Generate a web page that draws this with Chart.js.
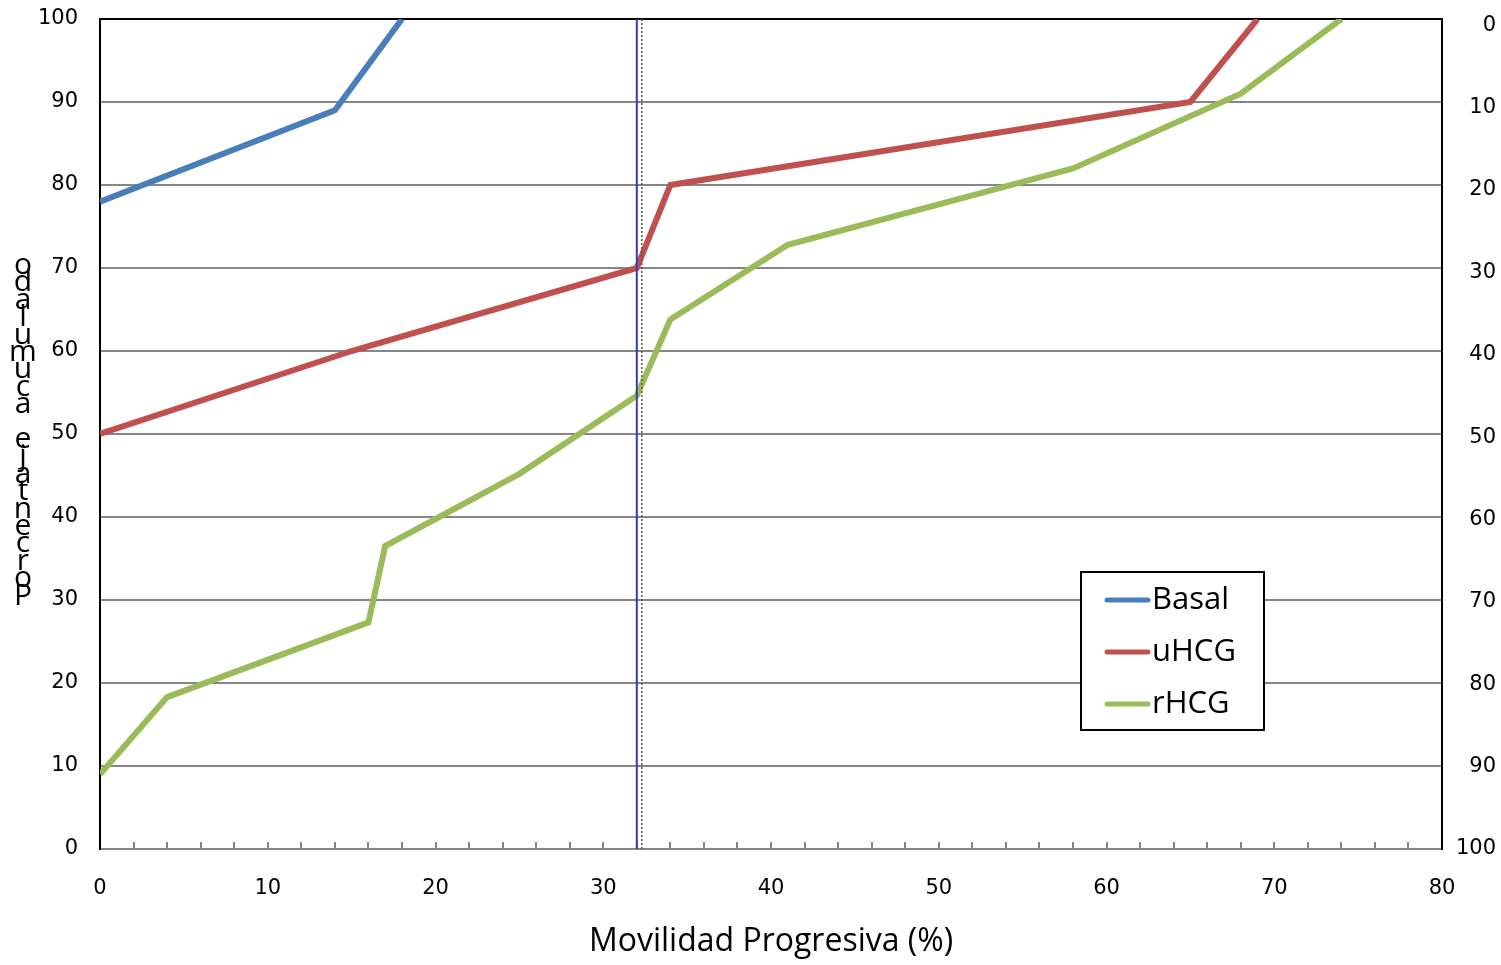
<!DOCTYPE html>
<html>
<head>
<meta charset="utf-8">
<script src="https://cdn.jsdelivr.net/npm/chart.js@4.4.1/dist/chart.umd.min.js"></script>
<style>
  html, body { margin: 0; padding: 0; background: #fff; }
  canvas { display: block; }
</style>
</head>
<body>
<canvas id="chart" width="1501" height="965"></canvas>
<script>
// Series (x = Movilidad Progresiva %, y = cumulative %)
const seriesNames = ['Basal', 'uHCG', 'rHCG'];
const seriesColors = ['#4a7ebb', '#c0504d', '#9bbb59'];

const basalX = [0, 14, 18];
const basalY = [78, 89, 100];

const uhcgX = [0, 15, 32, 34, 65, 69];
const uhcgY = [50, 60, 70, 80, 90, 100];

const rhcgX = [0, 4, 16, 17, 25, 32, 34, 41, 58, 68, 74];
const rhcgY = [9, 18.3, 27.3, 36.5, 45.2, 54.6, 63.8, 72.8, 82, 91, 100];

// Reference lines
const cutoffX = 32;
const cutoffDottedX = 32.3;
const cutoffY = [0, 100];

const leftTicks = [0, 10, 20, 30, 40, 50, 60, 70, 80, 90, 100];
const rightTicks = [0, 10, 20, 30, 40, 50, 60, 70, 80, 90, 100];

const xTitle = 'Movilidad Progresiva (%)';
const yTitle = 'Porcentaje acumulado';

const toPoints = (xs, ys) => xs.map((x, i) => ({ x, y: ys[i] }));

const tickFont = { family: 'DejaVu Sans', size: 21 };
const textFont = '"Open Sans", sans-serif';

// drop the label overflow padding so the plot box sits where the reference has it
const noEdgePadding = (scale) => {
  scale.paddingTop = 0;
  scale.paddingBottom = 0;
};

// Legend box and stacked y title drawn on top of the chart
const extrasPlugin = {
  id: 'extras',
  afterDraw(chart) {
    const { ctx, chartArea } = chart;
    ctx.save();

    // x title
    ctx.fillStyle = '#000';
    ctx.font = `32px ${textFont}`;
    ctx.textAlign = 'center';
    ctx.textBaseline = 'middle';
    ctx.fillText(xTitle, (chartArea.left + chartArea.right) / 2, 942);

    // y title: upright letters stacked bottom to top
    ctx.font = `30px ${textFont}`;
    const chars = yTitle.split('');
    const step = 17.4;
    chars.forEach((ch, i) => {
      ctx.fillText(ch, 23, 596 - i * step);
    });

    // legend
    const bx = 1081, by = 572, bw = 183, bh = 158;
    ctx.fillStyle = '#fff';
    ctx.fillRect(bx, by, bw, bh);
    ctx.strokeStyle = '#000';
    ctx.lineWidth = 2;
    ctx.strokeRect(bx, by, bw, bh);
    ctx.font = `31px ${textFont}`;
    ctx.textAlign = 'left';
    seriesNames.forEach((name, i) => {
      const y = by + 28 + i * 52;
      ctx.strokeStyle = seriesColors[i];
      ctx.lineWidth = 5;
      ctx.lineCap = 'round';
      ctx.beginPath();
      ctx.moveTo(bx + 26, y);
      ctx.lineTo(bx + 67, y);
      ctx.stroke();
      ctx.fillStyle = '#000';
      ctx.fillText(name, bx + 71, y);
    });
    ctx.restore();
  }
};

const lineDataset = (label, pts, color) => ({
  label,
  data: pts,
  borderColor: color,
  backgroundColor: color,
  borderWidth: 6,
  pointRadius: 0,
  tension: 0,
  order: 2,
  yAxisID: 'y'
});

new Chart(document.getElementById('chart').getContext('2d'), {
  type: 'line',
  data: {
    datasets: [
      lineDataset(seriesNames[0], toPoints(basalX, basalY), seriesColors[0]),
      lineDataset(seriesNames[1], toPoints(uhcgX, uhcgY), seriesColors[1]),
      lineDataset(seriesNames[2], toPoints(rhcgX, rhcgY), seriesColors[2]),
      {
        label: 'corte',
        data: cutoffY.map((y) => ({ x: cutoffX, y })),
        borderColor: '#3a3aa8',
        borderWidth: 2,
        pointRadius: 0,
        order: 0,
        yAxisID: 'y'
      },
      {
        label: 'corte2',
        data: cutoffY.map((y) => ({ x: cutoffDottedX, y })),
        borderColor: '#555',
        borderWidth: 1.5,
        borderDash: [2, 2],
        pointRadius: 0,
        order: 1,
        yAxisID: 'y'
      }
    ]
  },
  options: {
    responsive: false,
    animation: false,
    layout: { padding: { top: 19, right: 5, left: 0, bottom: 0 } },
    plugins: {
      legend: { display: false },
      tooltip: { enabled: false }
    },
    scales: {
      x: {
        type: 'linear',
        position: 'bottom',
        min: 0,
        max: 80,
        afterFit: (scale) => {
          scale.height = 116;
          scale.paddingLeft = 0;
          scale.paddingRight = 0;
        },
        ticks: {
          stepSize: 2,
          autoSkip: false,
          maxRotation: 0,
          padding: 34,
          color: '#000',
          font: tickFont,
          callback: (v) => (v % 10 === 0 ? v : '')
        },
        grid: {
          drawOnChartArea: false,
          tickLength: -7,
          color: '#868686',
          lineWidth: 2
        },
        border: { color: '#868686', width: 2 }
      },
      y: {
        type: 'linear',
        position: 'left',
        min: 0,
        max: 100,
        afterFit: (scale) => { scale.width = 100; noEdgePadding(scale); },
        afterBuildTicks: (scale) => { scale.ticks = leftTicks.map((value) => ({ value })); },
        ticks: { padding: 22, color: '#000', font: tickFont },
        grid: {
          drawTicks: false,
          color: (c) => (c.tick && c.tick.value === 100 ? '#000' : '#868686'),
          lineWidth: 2
        },
        border: { color: '#000', width: 2 }
      },
      y2: {
        type: 'linear',
        position: 'right',
        reverse: true,
        min: -0.75,
        max: 100,
        afterFit: (scale) => { scale.width = 54; noEdgePadding(scale); },
        afterBuildTicks: (scale) => { scale.ticks = rightTicks.map((value) => ({ value })); },
        ticks: { crossAlign: 'far', color: '#000', font: tickFont },
        grid: { drawOnChartArea: false, drawTicks: false },
        border: { color: '#000', width: 2 }
      }
    }
  },
  plugins: [extrasPlugin]
});
</script>
</body>
</html>
